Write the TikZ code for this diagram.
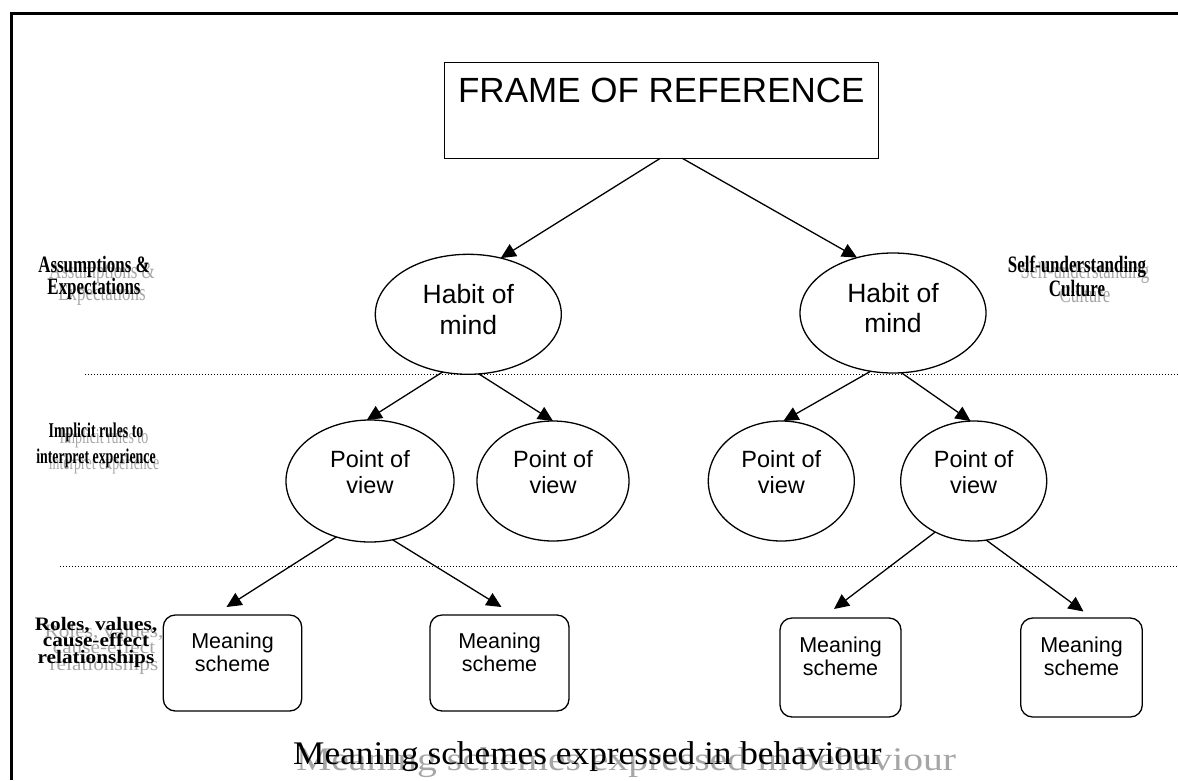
\documentclass[tikz,border=0pt]{standalone}
\usepackage{fontspec}
\setmainfont{Liberation Sans}
\newfontfamily\lblfont[FakeStretch=0.72]{Liberation Serif}
\newfontfamily\implfont[FakeStretch=0.66]{Liberation Serif}
\newfontfamily\rolesfont[FakeStretch=1.12]{Liberation Serif}
\newfontfamily\botfont[FakeStretch=1.07]{Liberation Serif}
\newfontfamily\botshadowfont[FakeStretch=1.2]{Liberation Serif}
\usetikzlibrary{arrows.meta,shapes.geometric}
\tikzset{
  arr/.style={line width=1.3pt,-{Triangle[length=15pt,width=14pt]}},
  ell/.style={draw,ellipse,line width=1.3pt,inner sep=0pt,outer sep=0pt},
  msbox/.style={draw,rounded corners=12pt,line width=1.3pt,inner sep=0pt,outer sep=0pt},
  habtxt/.style={align=center,font=\fontsize{26.5}{30.6}\selectfont,inner sep=0pt},
  povtxt/.style={align=center,font=\fontsize{23.5}{26.7}\selectfont,inner sep=0pt},
  mstxt/.style={align=center,font=\fontsize{21.5}{23}\selectfont,inner sep=0pt},
  sep/.style={line width=1pt,dash pattern=on 1pt off 2pt},
  border/.style={line width=3.5pt},
  lbl/.style={align=center,inner sep=0pt,anchor=base},
  lblshadow/.style={align=center,inner sep=0pt,anchor=base,text=black!35},
}
\begin{document}
\begin{tikzpicture}[x=1pt,y=-1pt]
\useasboundingbox (0,0) rectangle (1178,780);
% outer border (left and top)
\draw[border] (11.5,780) -- (11.5,13.3) -- (1178,13.3);
% separators
\draw[sep] (85,374.3) -- (1178,374.3);
\draw[sep] (60,566.7) -- (1178,566.7);

% nodes
\node[draw,line width=1.3pt,minimum width=434pt,minimum height=95.6pt,inner sep=0pt,outer sep=0pt] (frame) at (661.3,110.5) {};
\node[inner sep=0pt,font=\fontsize{35}{40}\selectfont] (frametxt) at ([yshift=20pt]frame) {FRAME OF REFERENCE};

\node[ell,minimum width=186pt,minimum height=120pt] (habitL) at (468.3,314.3) {};
\node[ell,minimum width=186pt,minimum height=120pt] (habitR) at (893,313) {};
\node[habtxt] (habitLt) at ([yshift=5pt]habitL) {Habit of\\mind};
\node[habtxt] (habitRt) at ([yshift=5pt]habitR) {Habit of\\mind};

\node[ell,minimum width=168pt,minimum height=122pt] (pov1) at (370,481) {};
\node[ell,minimum width=152pt,minimum height=120pt] (pov2) at (553,481) {};
\node[ell,minimum width=146pt,minimum height=120pt] (pov3) at (781.3,481) {};
\node[ell,minimum width=146pt,minimum height=120pt] (pov4) at (973.7,481) {};
\node[povtxt] (pov1t) at ([yshift=9pt]pov1) {Point of\\view};
\node[povtxt] (pov2t) at ([yshift=9pt]pov2) {Point of\\view};
\node[povtxt] (pov3t) at ([yshift=9pt]pov3) {Point of\\view};
\node[povtxt] (pov4t) at ([yshift=9pt]pov4) {Point of\\view};

\node[msbox,minimum width=138.4pt,minimum height=96pt] (ms1) at (232.5,663) {};
\node[msbox,minimum width=139pt,minimum height=96pt] (ms2) at (499.5,663) {};
\node[msbox,minimum width=121pt,minimum height=99pt] (ms3) at (840.5,667.5) {};
\node[msbox,minimum width=121.6pt,minimum height=99pt] (ms4) at (1081.5,667.5) {};
\node[mstxt] (ms1t) at ([yshift=11pt]ms1) {Meaning\\scheme};
\node[mstxt] (ms2t) at ([yshift=11pt]ms2) {Meaning\\scheme};
\node[mstxt] (ms3t) at ([yshift=11.5pt]ms3) {Meaning\\scheme};
\node[mstxt] (ms4t) at ([yshift=11.5pt]ms4) {Meaning\\scheme};

% connectors
\draw[arr] ([shift={(-1,0)}]frame.south) -- (habitL.60);
\draw[arr] ([shift={(21,0)}]frame.south) -- (habitR.123);
\draw[arr] (habitL.246) -- (pov1.93);
\draw[arr] (habitL.280) -- (pov2.90);
\draw[arr] (habitR.249) -- (pov3.88);
\draw[arr] (habitR.278) -- (pov4.93);
\draw[arr] (pov1.239) -- ([shift={(-6,-8)}]ms1.north);
\draw[arr] (pov1.291) -- ([shift={(2,-8)}]ms2.north);
\draw[arr] (pov4.233) -- ([shift={(-6.5,-9)}]ms3.north);
\draw[arr] (pov4.282) -- ([shift={(2,-6.5)}]ms4.north);

% side labels (shadow first, then black); base = last line
\node[lblshadow,font=\lblfont\fontsize{23.5}{22}\selectfont] (lAs) at (102,300) {Assumptions \&\\Expectations};
\node[lbl,font=\lblfont\bfseries\fontsize{23.5}{22}\selectfont] (lA) at (94,294) {Assumptions \&\\Expectations};

\node[lblshadow,font=\implfont\fontsize{21}{26}\selectfont] (lBs) at (104,469) {Implicit rules to\\interpret experience};
\node[lbl,font=\implfont\bfseries\fontsize{21}{26}\selectfont] (lB) at (96,463) {Implicit rules to\\interpret experience};

\node[lblshadow,font=\rolesfont\fontsize{19}{16.5}\selectfont] (lCs) at (104,670) {Roles, values,\\cause-effect\\relationships};
\node[lbl,font=\rolesfont\bfseries\fontsize{19}{16.5}\selectfont] (lC) at (96,663) {Roles, values,\\cause-effect\\relationships};

\node[lblshadow,font=\lblfont\fontsize{23.5}{24}\selectfont] (lDs) at (1085,302) {Self-understanding\\Culture};
\node[lbl,font=\lblfont\bfseries\fontsize{23.5}{24}\selectfont] (lD) at (1077,296) {Self-understanding\\Culture};

% bottom caption
\node[anchor=base west,inner sep=0pt,text=black!35,font=\botshadowfont\fontsize{33}{36}\selectfont] (capS) at (296,770) {Meaning schemes expressed in behaviour};
\node[anchor=base west,inner sep=0pt,font=\botfont\fontsize{33}{36}\selectfont] (cap) at (293,764) {Meaning schemes expressed in behaviour};
\end{tikzpicture}
\end{document}
